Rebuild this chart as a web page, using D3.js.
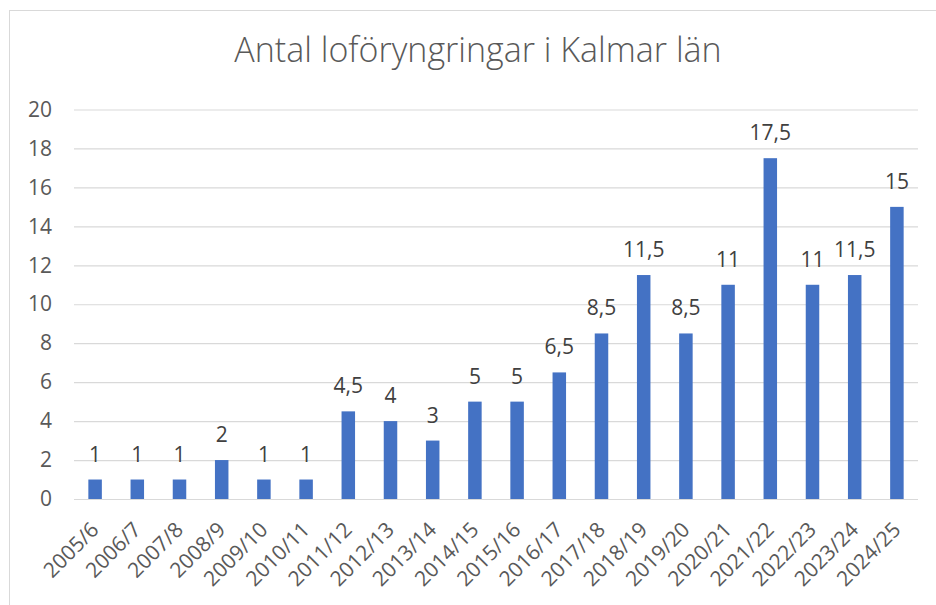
<!DOCTYPE html>
<html>
<head>
<meta charset="utf-8">
<script src="https://cdn.jsdelivr.net/npm/d3@7"></script>
<style>
  body { margin: 0; background: #fff; }
  text { font-family: "Open Sans", "Noto Sans", sans-serif; }
</style>
</head>
<body>
<div id="chart"></div>
<script>
// seasons and number of restorations
const seasons = ["2005/6", "2006/7", "2007/8", "2008/9", "2009/10", "2010/11", "2011/12",
  "2012/13", "2013/14", "2014/15", "2015/16", "2016/17", "2017/18", "2018/19", "2019/20",
  "2020/21", "2021/22", "2022/23", "2023/24", "2024/25"];
const counts = [1, 1, 1, 2, 1, 1, 4.5, 4, 3, 5, 5, 6.5, 8.5, 11.5, 8.5, 11, 17.5, 11, 11.5, 15];
const yTicks = [0, 2, 4, 6, 8, 10, 12, 14, 16, 18, 20];
const title = "Antal loföryngringar i Kalmar län";

const data = seasons.map((s, i) => ({season: s, value: counts[i]}));

const width = 936, height = 605,
      margin = {top: 109.5, right: 18, bottom: 106, left: 74};

const svg = d3.select("#chart")
  .append("svg")
  .attr("width", width)
  .attr("height", height);

// chart frame
svg.append("rect")
  .attr("x", 9.5).attr("y", 10.5)
  .attr("width", width + 20).attr("height", height + 20)
  .attr("fill", "none")
  .attr("stroke", "#d9d9d9");

svg.append("text")
  .attr("x", 478).attr("y", 62)
  .attr("text-anchor", "middle")
  .attr("font-size", 34)
  .attr("font-weight", 300)
  .attr("fill", "#595959")
  .text(title);

const x = d3.scaleBand()
  .domain(seasons)
  .range([margin.left, width - margin.right])
  .padding(0);

const y = d3.scaleLinear()
  .domain([0, 20])
  .range([height - margin.bottom, margin.top]);

const barW = x.bandwidth() * 0.32;

// gridlines + y labels
const yAxis = g => g
  .attr("transform", `translate(${margin.left},0)`)
  .call(d3.axisLeft(y).tickValues(yTicks).tickSize(-(width - margin.left - margin.right)).tickPadding(22))
  .call(g => g.select(".domain").remove())
  .call(g => g.selectAll(".tick line").attr("stroke", "#d9d9d9").attr("stroke-width", 1.2))
  .call(g => g.selectAll(".tick text")
    .attr("font-size", 21)
    .attr("fill", "#595959"));

svg.append("g").call(yAxis);

// x labels
const xAxis = g => g
  .attr("transform", `translate(0,${height - margin.bottom})`)
  .call(d3.axisBottom(x).tickSize(0).tickPadding(0))
  .call(g => g.select(".domain").remove())
  .call(g => g.selectAll(".tick text")
    .attr("font-size", 21)
    .attr("fill", "#595959")
    .attr("text-anchor", "end")
    .attr("dy", 0)
    .attr("transform", "translate(5,32) rotate(-45)"));

svg.append("g").call(xAxis);

const bar = svg.selectAll(".bar")
  .data(data)
  .join("g")
  .attr("class", "bar");

bar.append("rect")
  .attr("fill", "#4472c4")
  .attr("x", d => x(d.season) + (x.bandwidth() - barW) / 2)
  .attr("width", barW)
  .attr("y", d => y(d.value))
  .attr("height", d => y(0) - y(d.value));

bar.append("text")
  .text(d => String(d.value).replace(".", ","))
  .attr("x", d => x(d.season) + x.bandwidth() / 2)
  .attr("y", d => y(d.value) - 18)
  .attr("text-anchor", "middle")
  .attr("font-size", 21)
  .attr("fill", "#404040");
</script>
</body>
</html>
